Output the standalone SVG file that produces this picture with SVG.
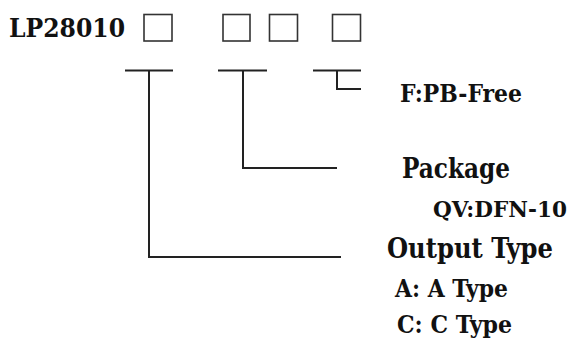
<svg xmlns="http://www.w3.org/2000/svg" width="574" height="338" viewBox="0 0 574 338">
<style>
.t{font-family:'DejaVu Serif',serif;font-weight:700;fill:#111}
.box{fill:none;stroke:#333;stroke-width:1.6}
.ln{fill:none;stroke:#222;stroke-width:2}
</style>
<rect width="574" height="338" fill="#fff"/>
<g id="part-number">
<text class="t" x="9" y="37" font-size="26" textLength="116" lengthAdjust="spacingAndGlyphs">LP28010</text>
<rect class="box" x="144" y="14.5" width="28" height="26.5"/>
<rect class="box" x="223" y="14.5" width="27" height="26.5"/>
<rect class="box" x="269.5" y="14.5" width="28" height="26.5"/>
<rect class="box" x="332.5" y="14.5" width="28" height="26.5"/>
</g>
<g id="connectors">
<path class="ln" d="M125 70.5H173M149 70.5V257H341"/>
<path class="ln" d="M218 70.5H267M243 70.5V168H337"/>
<path class="ln" d="M313 70.5H361M337 70.5V89H361"/>
</g>
<g id="pbfree">
<text class="t" x="400" y="102" font-size="25" textLength="122" lengthAdjust="spacingAndGlyphs">F:PB-Free</text>
</g>
<g id="package">
<text class="t" x="402" y="178" font-size="28" textLength="108" lengthAdjust="spacingAndGlyphs">Package</text>
<text class="t" x="433" y="217" font-size="22" textLength="134" lengthAdjust="spacingAndGlyphs">QV:DFN-10</text>
</g>
<g id="output-type">
<text class="t" x="387" y="258" font-size="27" textLength="166" lengthAdjust="spacingAndGlyphs">Output Type</text>
<text class="t" x="395" y="297" font-size="24" textLength="113" lengthAdjust="spacingAndGlyphs">A: A Type</text>
<text class="t" x="397" y="333" font-size="24" textLength="115" lengthAdjust="spacingAndGlyphs">C: C Type</text>
</g>
</svg>
